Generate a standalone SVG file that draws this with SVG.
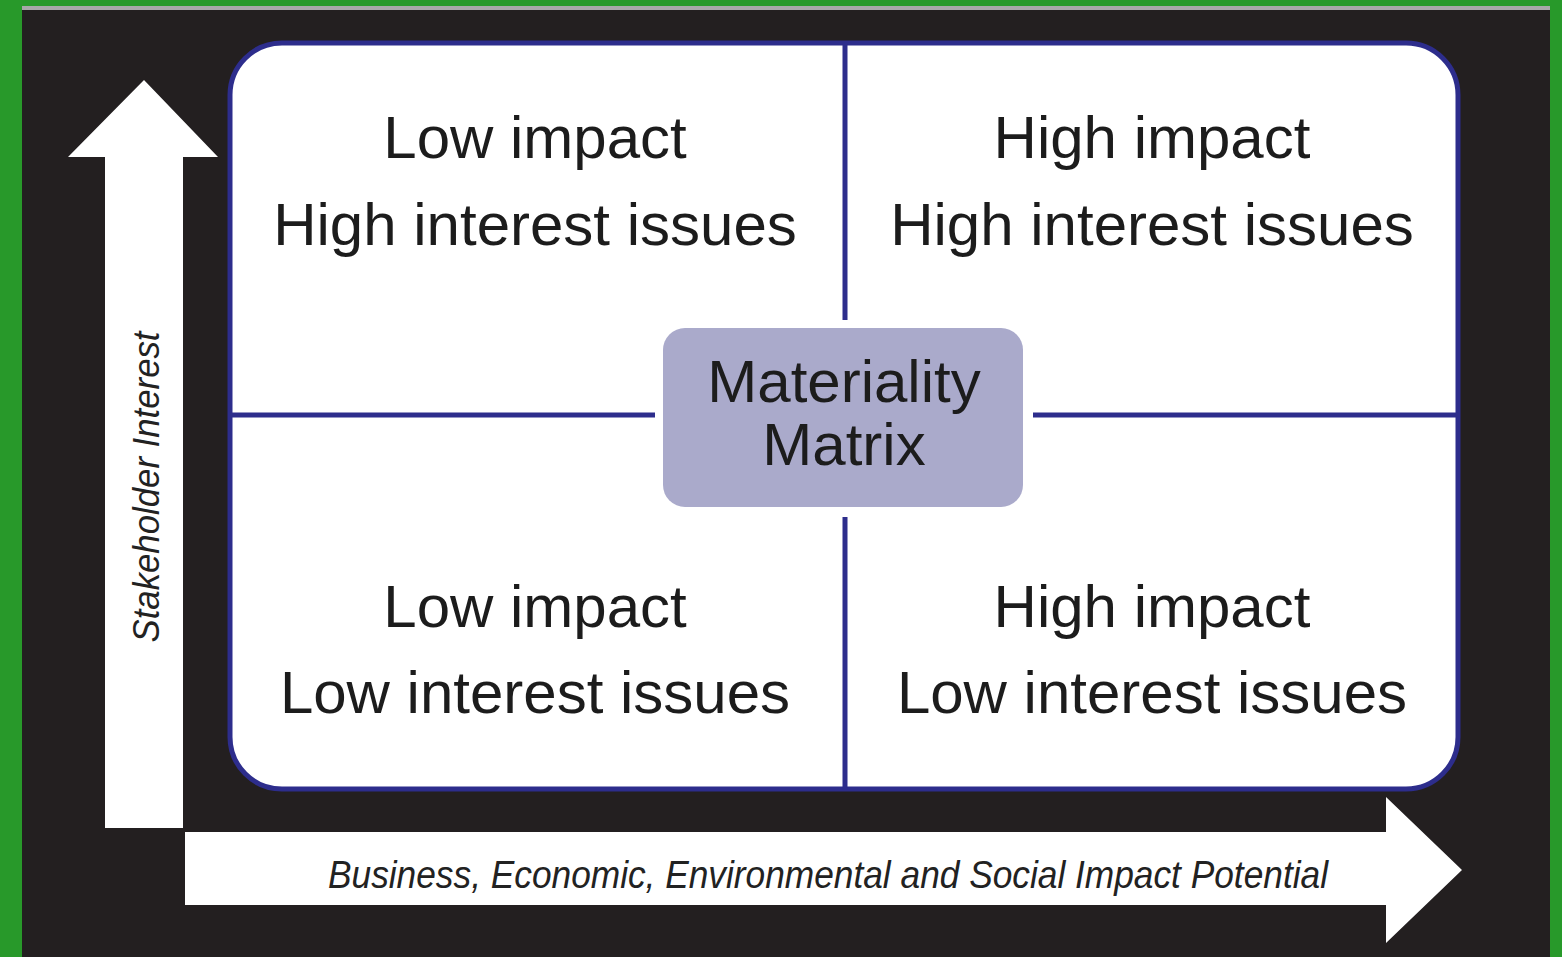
<svg xmlns="http://www.w3.org/2000/svg" width="1562" height="957" viewBox="0 0 1562 957">
<style>
.q{font-family:"Liberation Sans",Arial,sans-serif;font-size:60px;fill:#1c1c1c;text-anchor:middle}
.ax{font-family:"Liberation Sans",Arial,sans-serif;font-style:italic;fill:#222222;text-anchor:middle}
.div{stroke:#2d2d8c;stroke-width:5;fill:none}
</style>
<rect x="0" y="0" width="1562" height="957" fill="#28992a"/>
<rect x="22" y="6" width="1528" height="4" fill="#a8a8a8"/>
<rect x="22" y="10" width="1528" height="947" fill="#231f20"/>
<g id="axis-y">
<polygon points="144,80 218,157 183,157 183,828 105,828 105,157 68,157" fill="#ffffff"/>
<text class="ax" font-size="37" transform="translate(159,487) rotate(-90)" textLength="311" lengthAdjust="spacingAndGlyphs">Stakeholder Interest</text>
</g>
<g id="axis-x">
<polygon points="185,832 1386,832 1386,797 1462,870 1386,943 1386,905 185,905" fill="#ffffff"/>
<text class="ax" font-size="38" x="828" y="888" textLength="1000" lengthAdjust="spacingAndGlyphs">Business, Economic, Environmental and Social Impact Potential</text>
</g>
<g id="matrix">
<rect x="230" y="43" width="1228" height="746" rx="52" ry="52" fill="#ffffff" stroke="#2d2d8c" stroke-width="5"/>
</g>
<g id="connectors">
<line class="div" x1="845" y1="43" x2="845" y2="320"/>
<line class="div" x1="845" y1="517" x2="845" y2="789"/>
<line class="div" x1="230" y1="415" x2="655" y2="415"/>
<line class="div" x1="1033" y1="415" x2="1458" y2="415"/>
</g>
<g id="q-top-left">
<text class="q" x="535" y="158">Low impact</text>
<text class="q" x="535" y="245">High interest issues</text>
</g>
<g id="q-top-right">
<text class="q" x="1152" y="158">High impact</text>
<text class="q" x="1152" y="245">High interest issues</text>
</g>
<g id="q-bottom-left">
<text class="q" x="535" y="627">Low impact</text>
<text class="q" x="535" y="713">Low interest issues</text>
</g>
<g id="q-bottom-right">
<text class="q" x="1152" y="627">High impact</text>
<text class="q" x="1152" y="713">Low interest issues</text>
</g>
<g id="center">
<rect x="663" y="328" width="360" height="179" rx="22" ry="22" fill="#aaaacb"/>
<text class="q" x="844" y="402" font-size="58">Materiality</text>
<text class="q" x="844" y="465" font-size="58">Matrix</text>
</g>
</svg>
